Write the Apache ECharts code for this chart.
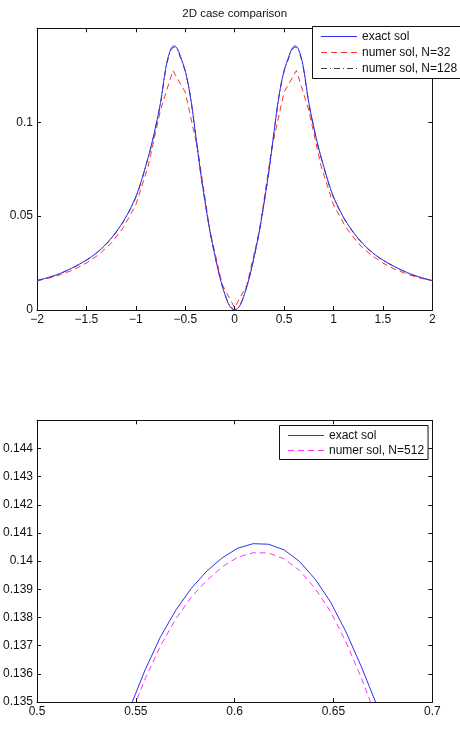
<!DOCTYPE html>
<html>
<head>
<meta charset="utf-8">
<script src="https://cdn.jsdelivr.net/npm/echarts@6/dist/echarts.min.js"></script>
<style>
  html, body { margin: 0; padding: 0; background: #fff; }
  #chart { width: 460px; height: 750px; }
</style>
</head>
<body>
<div id="chart"></div>
<script>
// top panel: full profile
const xTop = [-2, -1.9, -1.8, -1.7, -1.6, -1.5, -1.4, -1.3, -1.2, -1.1, -1, -0.95, -0.9, -0.85, -0.8, -0.75, -0.7,
  -0.672, -0.656, -0.641, -0.625, -0.609, -0.594, -0.578, -0.563, -0.55, -0.5, -0.45, -0.4, -0.35, -0.3, -0.25,
  -0.2, -0.15, -0.1, -0.05, 0, 0.05, 0.1, 0.15, 0.2, 0.25, 0.3, 0.35, 0.4, 0.45, 0.5, 0.55, 0.563, 0.578, 0.594,
  0.609, 0.625, 0.641, 0.656, 0.672, 0.7, 0.75, 0.8, 0.85, 0.9, 0.95, 1, 1.1, 1.2, 1.3, 1.4, 1.5, 1.6, 1.7, 1.8, 1.9, 2]
const exactTop = [0.0157, 0.0171, 0.0188, 0.0210, 0.0236, 0.0266, 0.0303, 0.0352, 0.0415, 0.0495, 0.0603, 0.0678,
  0.0767, 0.0862, 0.0975, 0.1105, 0.1280, 0.1349, 0.1375, 0.1394, 0.1404, 0.1406, 0.1401, 0.1390, 0.1373, 0.1352,
  0.1275, 0.1145, 0.0955, 0.0752, 0.0578, 0.0419, 0.0290, 0.0175, 0.0085, 0.0021, 0, 0.0021, 0.0085, 0.0175,
  0.0290, 0.0419, 0.0578, 0.0752, 0.0955, 0.1145, 0.1275, 0.1352, 0.1373, 0.1390, 0.1401, 0.1406, 0.1404, 0.1394,
  0.1375, 0.1349, 0.1280, 0.1105, 0.0975, 0.0862, 0.0767, 0.0678, 0.0603, 0.0495, 0.0415, 0.0352, 0.0303, 0.0266,
  0.0236, 0.0210, 0.0188, 0.0171, 0.0157]
const n128Top = [0.0156, 0.0170, 0.0187, 0.0209, 0.0235, 0.0265, 0.0302, 0.0350, 0.0413, 0.0493, 0.0600, 0.0675,
  0.0764, 0.0859, 0.0971, 0.1100, 0.1273, 0.1342, 0.1368, 0.1387, 0.1397, 0.1399, 0.1394, 0.1383, 0.1366, 0.1346,
  0.1270, 0.1142, 0.0953, 0.0751, 0.0578, 0.0420, 0.0291, 0.0177, 0.0087, 0.0023, 0.0003, 0.0023, 0.0087, 0.0177,
  0.0291, 0.0420, 0.0578, 0.0751, 0.0953, 0.1142, 0.1270, 0.1346, 0.1366, 0.1383, 0.1394, 0.1399, 0.1397, 0.1387,
  0.1368, 0.1342, 0.1273, 0.1100, 0.0971, 0.0859, 0.0764, 0.0675, 0.0600, 0.0493, 0.0413, 0.0350, 0.0302, 0.0265,
  0.0235, 0.0209, 0.0187, 0.0170, 0.0156]
const xN32 = [-2, -1.875, -1.75, -1.625, -1.5, -1.375, -1.25, -1.125, -1, -0.875, -0.75, -0.625, -0.5, -0.375,
  -0.25, -0.125, 0, 0.125, 0.25, 0.375, 0.5, 0.625, 0.75, 0.875, 1, 1.125, 1.25, 1.375, 1.5, 1.625, 1.75, 1.875, 2]
const n32Top = [0.0156, 0.0170, 0.0190, 0.0216, 0.0250, 0.0295, 0.0355, 0.0440, 0.0560, 0.0765, 0.1065, 0.1275,
  0.1160, 0.0860, 0.0420, 0.0135, 0.0012, 0.0135, 0.0420, 0.0860, 0.1160, 0.1275, 0.1065, 0.0765, 0.0560, 0.0440,
  0.0355, 0.0295, 0.0250, 0.0216, 0.0190, 0.0170, 0.0156]

// bottom panel: zoom on the right peak
const xZoom = [0.546875, 0.5546875, 0.5625, 0.5703125, 0.578125, 0.5859375, 0.59375, 0.6015625, 0.609375,
  0.6171875, 0.625, 0.6328125, 0.640625, 0.6484375, 0.65625, 0.6640625, 0.671875]
const exactZoom = [0.13477, 0.13614, 0.13732, 0.13827, 0.13904, 0.13965, 0.14012, 0.14046, 0.14062, 0.14060,
  0.14040, 0.13999, 0.13937, 0.13856, 0.13750, 0.13626, 0.13490]
const n512Zoom = [0.13445, 0.13582, 0.13700, 0.13796, 0.13873, 0.13932, 0.13980, 0.14014, 0.14030, 0.14029,
  0.14008, 0.13967, 0.13904, 0.13822, 0.13714, 0.13586, 0.13442]

const topXTicks = { min: -2, max: 2, interval: 0.5 }
const topYTicks = { min: 0, max: 0.15, interval: 0.05 }
const zoomXTicks = { min: 0.5, max: 0.7, interval: 0.05 }
const zoomYTicks = { min: 0.135, max: 0.145, interval: 0.001 }

const font = 'Liberation Sans, Arial, Helvetica, sans-serif'
const ink = '#111'
const blue = '#3030f0'
const pairs = (xs, ys) => xs.map((x, i) => [x, ys[i]])

// one axis of the box: labelled side or mirror side with ticks only
const axis = (grid, pos, ticks, labels, fmt) => ({
  type: 'value',
  gridIndex: grid,
  position: pos,
  min: ticks.min,
  max: ticks.max,
  interval: ticks.interval,
  axisLine: { show: true, onZero: false, lineStyle: { color: ink, width: 1 } },
  axisTick: { show: true, inside: true, length: 4, lineStyle: { color: ink } },
  splitLine: { show: false },
  axisLabel: {
    show: labels,
    margin: 4,
    fontSize: 12,
    fontFamily: font,
    color: ink,
    showMaxLabel: pos === 'left' ? false : true,
    formatter: fmt
  }
})

const fmtSigned = v => String(+v.toFixed(2)).replace('-', '\u2212')
const fmt3 = v => String(+v.toFixed(3))

// the zoom panel's exact curve gets its own series name, shown without the suffix
const zoomTag = ' (zoom)'

const legendBox = (names, left, top, gap, pad) => ({
  data: names,
  orient: 'vertical',
  left: left,
  top: top,
  padding: pad,
  itemWidth: 36,
  itemHeight: 12,
  itemGap: gap,
  itemStyle: { opacity: 0 },
  lineStyle: { width: 1 },
  backgroundColor: '#fff',
  borderColor: ink,
  borderWidth: 1,
  formatter: name => name.replace(zoomTag, ''),
  textStyle: { fontSize: 12, fontFamily: font, color: ink }
})

const chart = echarts.init(document.getElementById('chart'), null, { renderer: 'canvas' })

chart.setOption({
  animation: false,
  backgroundColor: '#fff',
  title: {
    text: '2D case comparison',
    left: 234.7,
    top: 8,
    padding: 0,
    textAlign: 'center',
    textStyle: { fontSize: 11.5, fontWeight: 'normal', fontFamily: font, color: ink }
  },
  grid: [
    { left: 37, top: 28.3, width: 395.3, height: 281.7 },
    { left: 37, top: 420.3, width: 395.3, height: 281.7 }
  ],
  xAxis: [
    axis(0, 'bottom', topXTicks, true, fmtSigned),
    axis(0, 'top', topXTicks, false),
    axis(1, 'bottom', zoomXTicks, true, fmtSigned),
    axis(1, 'top', zoomXTicks, false)
  ],
  yAxis: [
    axis(0, 'left', topYTicks, true, fmt3),
    axis(0, 'right', topYTicks, false),
    axis(1, 'left', zoomYTicks, true, fmt3),
    axis(1, 'right', zoomYTicks, false)
  ],
  legend: [
    legendBox(['exact sol', 'numer sol, N=32', 'numer sol, N=128'], 312.5, 26.5, 4, [4, 4, 4, 8]),
    legendBox(['exact sol' + zoomTag, 'numer sol, N=512'], 279.5, 425.5, 3, [4, 4, 3, 8])
  ],
  series: [
    {
      name: 'exact sol', type: 'line', xAxisIndex: 0, yAxisIndex: 0,
      data: pairs(xTop, exactTop), symbol: 'none', smooth: 0.35, z: 4,
      color: blue, lineStyle: { color: blue, width: 1 }
    },
    {
      name: 'numer sol, N=32', type: 'line', xAxisIndex: 0, yAxisIndex: 0,
      data: pairs(xN32, n32Top), symbol: 'none', z: 3,
      color: '#ff3030', lineStyle: { color: '#ff3030', width: 1, type: [6, 4] }
    },
    {
      name: 'numer sol, N=128', type: 'line', xAxisIndex: 0, yAxisIndex: 0,
      data: pairs(xTop, n128Top), symbol: 'none', smooth: 0.35, z: 3,
      color: '#444', lineStyle: { color: '#444', width: 1, type: [6, 3, 1, 3] }
    },
    {
      name: 'exact sol' + zoomTag, type: 'line', xAxisIndex: 2, yAxisIndex: 2,
      data: pairs(xZoom, exactZoom), symbol: 'none', z: 4,
      color: blue, lineStyle: { color: blue, width: 1 }
    },
    {
      name: 'numer sol, N=512', type: 'line', xAxisIndex: 2, yAxisIndex: 2,
      data: pairs(xZoom, n512Zoom), symbol: 'none', z: 3,
      color: '#ff30ff', lineStyle: { color: '#ff30ff', width: 1, type: [6, 4] }
    }
  ]
})
</script>
</body>
</html>
